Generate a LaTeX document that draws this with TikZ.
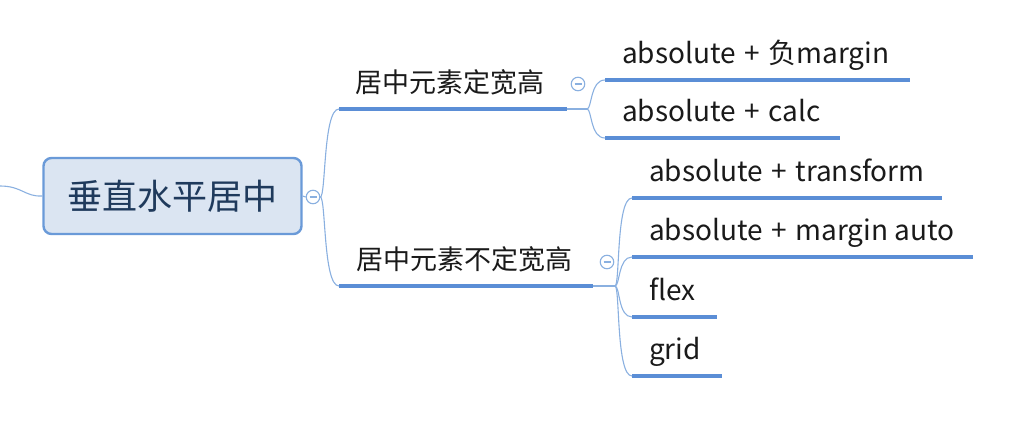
\documentclass[tikz,border=0pt]{standalone}
\usepackage{fontspec}
\setmainfont{Noto Sans CJK SC}
\definecolor{thinblue}{HTML}{8AB0E0}
\definecolor{thickblue}{HTML}{5B8ED6}
\definecolor{rootfill}{HTML}{DBE5F2}
\definecolor{rootdraw}{HTML}{6A9AD8}
\definecolor{roottext}{HTML}{1F3A5C}
\definecolor{topictext}{HTML}{1A1A1A}
\newcommand\myplus{\hspace{8.5pt}+\hspace{8.5pt}}
\tikzset{
  conn/.style={draw=thinblue, line width=1.1pt},
  uline/.style={draw=thickblue, line width=3.6pt},
  topic/.style={anchor=base west, inner sep=0pt, text=topictext, font=\fontsize{27}{30}\selectfont},
  latin/.style={topic, font=\fontsize{28}{30}\selectfont},
  rootbox/.style={draw=rootdraw, fill=rootfill, line width=2.4pt, rounded corners=8pt,
    minimum width=258pt, minimum height=76pt, text=roottext, font=\fontsize{35}{40}\selectfont},
  collapse/.style={circle, draw=thinblue, line width=1.1pt, fill=white, minimum size=13.5pt, inner sep=0pt,
    path picture={\draw[thinblue, line width=1.2pt] ([xshift=-3.5pt]path picture bounding box.center) -- ([xshift=3.5pt]path picture bounding box.center);}}
}
\begin{document}
\begin{tikzpicture}[x=1pt,y=-1pt]
\useasboundingbox (0,0) rectangle (1018,427);
% root
\coordinate (in) at (0,186);
\node[rootbox] (root) at (172.5,196) {垂直水平居中};
\draw[conn] (in) .. controls (22,186) and (25,197) .. (root.west);
\node[collapse] (k0) at (313,197) {};
\draw[conn] (root.east) -- (k0.west);
% branch 1
\coordinate (b1s) at (339,109);
\coordinate (b1e) at (567,109);
\node[topic] (b1) at (355,93) {居中元素定宽高};
\draw[uline] (b1s) -- (b1e);
\draw[conn] (k0.east) .. controls (326,197) and (323,109) .. (b1s);
% branch 2
\coordinate (b2s) at (339,286);
\coordinate (b2e) at (593,286);
\node[topic] (b2) at (356,270) {居中元素不定宽高};
\draw[uline] (b2s) -- (b2e);
\draw[conn] (k0.east) .. controls (326,197) and (323,286) .. (b2s);
% branch 1 children
\node[collapse] (k1) at (578,84) {};
\coordinate (j1) at (587,109);
\draw[conn] (b1e) -- (j1);
\coordinate (c11s) at (605,80);
\coordinate (c11e) at (910,80);
\coordinate (c12s) at (605,138);
\coordinate (c12e) at (840,138);
\node[latin] (c11) at (622,63.5) {absolute\myplus{}负margin};
\node[latin] (c12) at (622,121.5) {absolute\myplus{}calc};
\draw[uline] (c11s) -- (c11e);
\draw[uline] (c12s) -- (c12e);
\draw[conn] (j1) .. controls (592,109) and (590,80) .. (c11s);
\draw[conn] (j1) .. controls (592,109) and (590,138) .. (c12s);
% branch 2 children
\node[collapse] (k2) at (607,262) {};
\coordinate (j2) at (615,286);
\draw[conn] (b2e) -- (j2);
\coordinate (c21s) at (632,198)  ; \coordinate (c21e) at (942,198);
\coordinate (c22s) at (632,257)  ; \coordinate (c22e) at (973,257);
\coordinate (c23s) at (632,317)  ; \coordinate (c23e) at (717,317);
\coordinate (c24s) at (632,376)  ; \coordinate (c24e) at (722,376);
\node[latin] (c21) at (649,182) {absolute\myplus{}transform};
\node[latin] (c22) at (649,241) {absolute\myplus{}margin auto};
\node[latin] (c23) at (649,301) {flex};
\node[latin] (c24) at (649,360) {grid};
\draw[uline] (c21s) -- (c21e);
\draw[uline] (c22s) -- (c22e);
\draw[uline] (c23s) -- (c23e);
\draw[uline] (c24s) -- (c24e);
\draw[conn] (j2) .. controls (620,286) and (616,198) .. (c21s);
\draw[conn] (j2) .. controls (620,286) and (618,257) .. (c22s);
\draw[conn] (j2) .. controls (620,286) and (618,317) .. (c23s);
\draw[conn] (j2) .. controls (620,286) and (616,376) .. (c24s);
\end{tikzpicture}
\end{document}
